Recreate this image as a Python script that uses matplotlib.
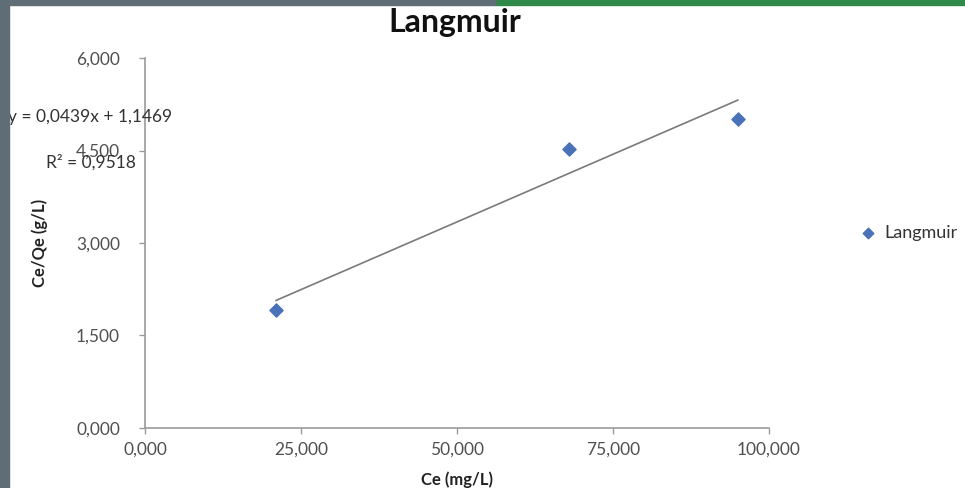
import matplotlib
matplotlib.use("Agg")
import matplotlib.pyplot as plt
from matplotlib.ticker import FuncFormatter, MultipleLocator
from matplotlib.patches import Rectangle

plt.rcParams['font.family'] = ['Lato', 'DejaVu Sans']

# data
ce = [21, 68, 95]
ce_qe = [1.91, 4.52, 5.01]
slope = 0.0439
intercept = 1.1469
r2 = 0.9518

def comma(v, pos):
    return f"{v:.3f}".replace('.', ',')

fig = plt.figure(figsize=(9.65, 4.88), dpi=100)
ax = fig.add_axes([0.1503, 0.1230, 0.6466, 0.7581])

ax.scatter(ce, ce_qe, marker='D', s=45, color='#4a72b8', zorder=3, label='Langmuir')
xs = [min(ce), max(ce)]
ax.plot(xs, [slope * x + intercept for x in xs], color='#7a7a7a', lw=1.2, zorder=2)

ax.set_xlim(0, 100)
ax.set_ylim(0, 6)
ax.xaxis.set_major_locator(MultipleLocator(25))
ax.yaxis.set_major_locator(MultipleLocator(1.5))
ax.xaxis.set_major_formatter(FuncFormatter(comma))
ax.yaxis.set_major_formatter(FuncFormatter(comma))
for s in ['top', 'right']:
    ax.spines[s].set_visible(False)
for s in ['left', 'bottom']:
    ax.spines[s].set_color('#9a9a9a')
    ax.spines[s].set_linewidth(1.2)
ax.tick_params(colors='#9a9a9a', labelcolor='#505050', labelsize=12.5, length=4, width=1)
ax.tick_params(axis='y', pad=14)
ax.tick_params(axis='x', pad=6)

ax.set_xlabel('Ce (mg/L)', fontsize=12, fontweight='bold', color='#222222', labelpad=10)
ax.set_ylabel('Ce/Qe (g/L)', fontsize=12, fontweight='bold', color='#222222', labelpad=20)

fig.text(0.471, 0.953, 'Langmuir', ha='center', va='center', fontsize=23, fontweight='bold', color='#111111')

# trendline label, sits over the 4,500 tick label like in the source
fig.text(0.008, 0.760, f"y = {slope:.4f}x + {intercept:.4f}".replace('.', ','),
         ha='left', va='center', fontsize=12.5, color='#333333')
fig.text(0.094, 0.668, f"R² = {r2:.4f}".replace('.', ','),
         ha='center', va='center', fontsize=12.5, color='#333333')

leg = fig.legend(loc='center left', bbox_to_anchor=(0.892, 0.523), frameon=False,
                 fontsize=13, handlelength=0.8, handletextpad=0.5, borderpad=0,
                 borderaxespad=0, markerscale=0.8)
for t in leg.get_texts():
    t.set_color('#333333')

# frame of the screenshot
fig.patches.append(Rectangle((0, 0), 0.009, 1, transform=fig.transFigure, color='#5f6d76', zorder=10))
fig.patches.append(Rectangle((0, 0.99), 0.515, 0.01, transform=fig.transFigure, color='#5f6d76', zorder=10))
fig.patches.append(Rectangle((0.515, 0.99), 0.485, 0.01, transform=fig.transFigure, color='#2f8a4a', zorder=10))

fig.savefig('out.png', dpi=100)
